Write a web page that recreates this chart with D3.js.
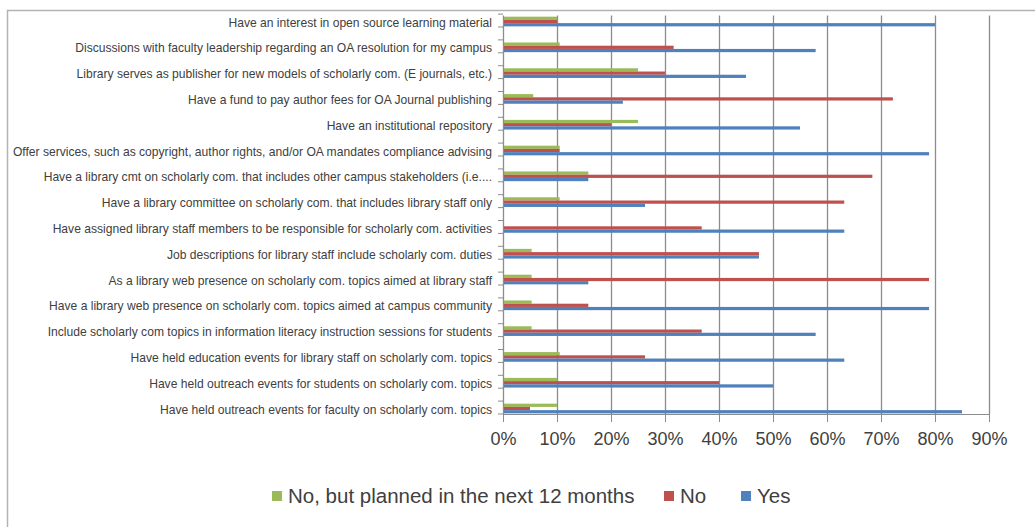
<!DOCTYPE html>
<html><head><meta charset="utf-8">
<script src="https://cdn.jsdelivr.net/npm/d3@7"></script>
<style>body{margin:0;background:#fff}svg{display:block}</style>
</head><body>
<svg id="c" width="1035" height="527"></svg>
<script>
const categories = [
  "Have an interest in open source learning material",
  "Discussions with faculty leadership regarding an OA resolution for my campus",
  "Library serves as publisher for new models of scholarly com. (E journals, etc.)",
  "Have a fund to pay author fees for OA Journal publishing",
  "Have an institutional repository",
  "Offer services, such as copyright, author rights, and/or OA mandates compliance advising",
  "Have a library cmt on scholarly com. that includes other campus stakeholders (i.e....",
  "Have a library committee on scholarly com. that includes library staff only",
  "Have assigned library staff members to be responsible for scholarly com. activities",
  "Job descriptions for library staff include scholarly com. duties",
  "As a library web presence on scholarly com. topics aimed at library staff",
  "Have a library web presence on scholarly com. topics aimed at campus community",
  "Include scholarly com topics in information literacy instruction sessions for students",
  "Have held education events for library staff on scholarly com. topics",
  "Have held outreach events for students on scholarly com. topics",
  "Have held outreach events for faculty on scholarly com. topics"
];
const seriesNames = ["No, but planned in the next 12 months", "No", "Yes"];
const plannedValues = [0.10, 0.105, 0.25, 0.056, 0.25, 0.105, 0.158, 0.105, 0.0, 0.053, 0.053, 0.053, 0.053, 0.105, 0.10, 0.10];
const noValues      = [0.10, 0.316, 0.30, 0.722, 0.20, 0.105, 0.684, 0.632, 0.368, 0.474, 0.789, 0.158, 0.368, 0.263, 0.40, 0.05];
const yesValues     = [0.80, 0.579, 0.45, 0.222, 0.55, 0.789, 0.158, 0.263, 0.632, 0.474, 0.158, 0.789, 0.579, 0.632, 0.50, 0.85];
const xTicks = [0, 0.1, 0.2, 0.3, 0.4, 0.5, 0.6, 0.7, 0.8, 0.9];
const colors = ["#9BBB59", "#C0504D", "#4F81BD"];

const series = [plannedValues, noValues, yesValues];
const svg = d3.select("#c");
const x0 = 503, x1 = 989, yTop = 15.5, yBot = 414, band = 25.8;
const n = categories.length;

// outer frame
svg.append("rect").attr("x", 7.5).attr("y", 10.5).attr("width", 1040).attr("height", 530)
  .attr("fill", "none").attr("stroke", "#b3b3b3").attr("stroke-width", 1.5);

const x = d3.scaleLinear().domain([0, 0.9]).range([x0, x1]);
const y = d3.scaleBand().domain(categories).range([yBot - n * band, yBot]).paddingInner(0).paddingOuter(0);
const yInner = d3.scaleBand().domain(d3.range(3)).range([band * 0.6, band * 0.975]);

// gridlines
svg.append("g").selectAll("line").data(xTicks.slice(1)).join("line")
  .attr("x1", d => Math.round(x(d)) + 0.5).attr("x2", d => Math.round(x(d)) + 0.5)
  .attr("y1", yTop).attr("y2", yBot).attr("stroke", "#8c8c8c").attr("stroke-width", 1.3);

// x axis
const xAxis = d3.axisBottom(x).tickValues(xTicks).tickFormat(d3.format(".0%")).tickSize(8).tickPadding(10);
const gx = svg.append("g").attr("transform", `translate(0,${yBot})`).call(xAxis);
gx.select(".domain").attr("stroke", "#8c8c8c");
gx.selectAll(".tick line").attr("stroke", "#8c8c8c");
gx.selectAll("text").attr("font-family", "Liberation Sans, Arial, sans-serif").attr("font-size", 18).attr("fill", "#404040");

// y axis line and half-band tick marks
svg.append("line").attr("x1", x0 + 0.5).attr("x2", x0 + 0.5).attr("y1", yTop).attr("y2", yBot)
  .attr("stroke", "#8c8c8c").attr("stroke-width", 1.3);
const tickYs = d3.range(0, 2 * n + 1).map(k => yBot - k * band / 2).filter(v => v >= yTop - 2);
svg.append("g").selectAll("line").data(tickYs).join("line")
  .attr("x1", x0 - 5).attr("x2", x0).attr("y1", d => d).attr("y2", d => d)
  .attr("stroke", "#8c8c8c").attr("stroke-width", 1);

// bars
series.forEach((vals, s) => {
  svg.append("g").selectAll("rect").data(vals).join("rect")
    .attr("x", x(0) + 1)
    .attr("y", (d, i) => y(categories[i]) + yInner(s))
    .attr("width", d => Math.max(0, x(d) - x(0) - 1))
    .attr("height", yInner.bandwidth())
    .attr("fill", colors[s]);
});

// category labels
svg.append("g").selectAll("text").data(categories).join("text")
  .attr("x", 492).attr("y", d => y(d) + band * 0.82).attr("dy", "0.35em")
  .attr("text-anchor", "end").attr("font-family", "Liberation Sans, Arial, sans-serif")
  .attr("font-size", 12.1).attr("fill", "#404040").text(d => d);

// legend
const legendX = [272, 664, 741];
const lg = svg.append("g");
seriesNames.forEach((name, s) => {
  lg.append("rect").attr("x", legendX[s]).attr("y", 491).attr("width", 10).attr("height", 10).attr("fill", colors[s]);
  lg.append("text").attr("x", legendX[s] + 16).attr("y", 496).attr("dy", "0.35em")
    .attr("font-family", "Liberation Sans, Arial, sans-serif").attr("font-size", 20.5).attr("fill", "#404040").text(name);
});
</script>
</body></html>
